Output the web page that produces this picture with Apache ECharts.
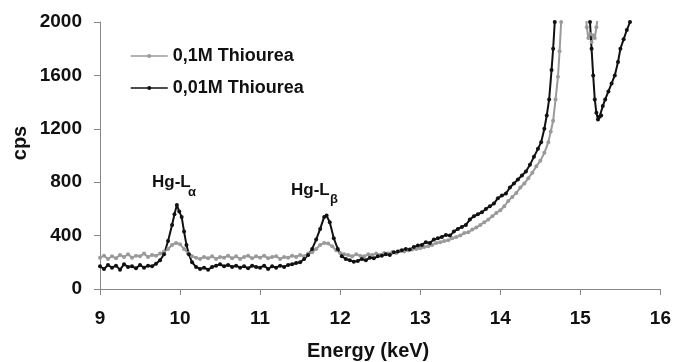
<!DOCTYPE html>
<html>
<head>
<meta charset="utf-8">
<script src="https://cdn.jsdelivr.net/npm/echarts@6/dist/echarts.min.js"></script>
<style>
html,body{margin:0;padding:0;background:#fff;}
#chart{width:674px;height:362px;}
</style>
</head>
<body>
<div id="chart"></div>
<script>
// ---- Data ----
var seriesNames = ['0,1M Thiourea', '0,01M Thiourea'];
var xTicks = [9, 10, 11, 12, 13, 14, 15, 16];
var yTicks = [0, 400, 800, 1200, 1600, 2000];

// 0,1M Thiourea (grey)
var energyGrey = [9.00,9.05,9.10,9.15,9.20,9.25,9.30,9.35,9.40,9.45,9.50,9.55,9.60,9.65,9.70,
  9.75,9.80,9.85,9.90,9.95,10.00,10.05,10.10,10.15,10.20,10.25,10.30,10.35,10.40,10.45,10.50,
  10.55,10.60,10.65,10.70,10.75,10.80,10.85,10.90,10.95,11.00,11.05,11.10,11.15,11.20,11.25,
  11.30,11.35,11.40,11.45,11.50,11.55,11.60,11.65,11.70,11.75,11.80,11.85,11.90,11.95,12.00,
  12.05,12.10,12.15,12.20,12.25,12.30,12.35,12.40,12.45,12.50,12.55,12.60,12.65,12.70,12.75,
  12.80,12.85,12.90,12.95,13.00,13.05,13.10,13.15,13.20,13.25,13.30,13.35,13.40,13.45,13.50,
  13.55,13.60,13.65,13.70,13.75,13.80,13.85,13.90,13.95,14.00,14.05,14.10,14.15,14.20,14.25,
  14.30,14.35,14.40,14.45,14.50,14.55,14.60,14.63,14.66,14.69,14.72,14.74,14.76,14.78,
  15.05,15.08,15.10,15.12,15.14,15.16,15.18,15.20,15.22,15.25];
var cpsGrey = [235,250,225,245,230,255,240,260,235,250,245,265,240,255,250,
  265,280,300,330,345,335,300,270,245,235,225,240,230,245,225,240,
  235,250,230,245,225,240,250,230,245,235,250,230,240,245,225,
  240,235,250,240,255,245,265,275,300,330,345,340,320,290,270,
  260,255,245,260,250,245,260,255,265,255,270,265,275,270,285,
  280,290,295,300,305,315,320,330,345,350,360,365,380,390,400,
  420,425,445,460,480,500,520,545,570,590,620,660,690,720,760,
  790,830,870,920,960,1020,1100,1180,1260,1420,1590,1780,2000,2300,
  2300,1960,1880,1910,1850,1900,1880,1960,2050,2300];

// 0,01M Thiourea (black)
var energyBlack = [9.00,9.05,9.10,9.15,9.20,9.25,9.30,9.35,9.40,9.45,9.50,9.55,9.60,9.65,9.70,
  9.75,9.80,9.85,9.90,9.93,9.96,9.99,10.02,10.05,10.08,10.11,10.15,10.20,10.25,10.30,10.35,
  10.40,10.45,10.50,10.55,10.60,10.65,10.70,10.75,10.80,10.85,10.90,10.95,11.00,11.05,11.10,
  11.15,11.20,11.25,11.30,11.35,11.40,11.45,11.50,11.55,11.60,11.65,11.70,11.75,11.80,11.83,
  11.87,11.92,11.97,12.02,12.07,12.12,12.17,12.22,12.27,12.32,12.37,12.42,12.47,12.52,12.57,
  12.62,12.67,12.72,12.77,12.82,12.87,12.92,12.97,13.02,13.07,13.12,13.17,13.22,13.27,13.32,
  13.37,13.42,13.47,13.52,13.57,13.62,13.67,13.72,13.77,13.82,13.87,13.92,13.97,14.02,14.07,
  14.12,14.17,14.22,14.27,14.32,14.37,14.42,14.47,14.51,14.55,14.58,14.61,14.64,14.66,14.68,
  14.70,15.10,15.12,15.14,15.16,15.18,15.20,15.22,15.24,15.26,15.28,15.31,15.35,15.39,15.43,
  15.47,15.50,15.54,15.58,15.62];
var cpsBlack = [170,150,180,160,175,145,185,165,170,155,180,160,175,170,190,
  215,260,360,480,560,630,580,540,430,330,260,200,165,150,160,145,
  165,175,185,170,180,165,175,160,170,155,175,165,160,175,150,
  170,160,175,165,180,185,195,200,225,255,300,370,450,540,550,
  500,380,300,245,225,215,205,210,225,215,235,230,245,250,260,
  255,275,280,290,300,295,315,325,330,350,345,370,380,390,405,
  400,430,450,465,480,520,545,560,575,600,620,640,680,700,715,
  760,790,820,850,880,930,990,1050,1100,1200,1300,1420,1640,1800,2000,
  2300,2300,2000,1800,1600,1420,1320,1270,1290,1300,1370,1420,1480,1540,1600,
  1700,1800,1870,1940,2000];

function pairs(xs, ys) {
  var out = [];
  for (var i = 0; i < xs.length; i++) out.push([xs[i], ys[i]]);
  return out;
}

var FONT = '"Liberation Sans", Arial, Helvetica, sans-serif';
var chart = echarts.init(document.getElementById('chart'), null, {renderer: 'canvas'});

chart.setOption({
  animation: false,
  backgroundColor: '#ffffff',
  grid: {left: 100, right: 11, top: 22, bottom: 73, containLabel: false},
  legend: {
    orient: 'vertical',
    left: 125,
    top: 42,
    itemWidth: 37,
    itemHeight: 5,
    itemGap: 14,
    data: seriesNames,
    itemStyle: {borderWidth: 0},
    lineStyle: {width: 1.5},
    textStyle: {fontFamily: FONT, fontWeight: 'bold', fontSize: 18, color: '#111'}
  },
  xAxis: {
    type: 'value',
    min: xTicks[0],
    max: xTicks[xTicks.length - 1],
    interval: 1,
    axisLine: {show: true, onZero: false, lineStyle: {color: '#888', width: 1}},
    axisTick: {show: true, length: 6, lineStyle: {color: '#888'}},
    splitLine: {show: false},
    axisLabel: {margin: 20, fontFamily: FONT, fontWeight: 'bold', fontSize: 19, color: '#111',
      formatter: function (v) { return String(v); }}
  },
  yAxis: {
    type: 'value',
    min: yTicks[0],
    max: yTicks[yTicks.length - 1],
    interval: 400,
    axisLine: {show: true, lineStyle: {color: '#888', width: 1}},
    axisTick: {show: true, length: 6, lineStyle: {color: '#888'}},
    splitLine: {show: false},
    axisLabel: {margin: 18, fontFamily: FONT, fontWeight: 'bold', fontSize: 19, color: '#111',
      formatter: function (v) { return String(v); }}
  },
  graphic: [
    {type: 'text', left: 307, top: 341,
      style: {text: 'Energy (keV)', font: 'bold 20px ' + FONT, fill: '#111'}},
    {type: 'text', x: 20, y: 143, rotation: Math.PI / 2,
      style: {text: 'cps', font: 'bold 20px ' + FONT, fill: '#111', align: 'center', verticalAlign: 'middle'}},
    {type: 'text', x: 152, y: 182,
      style: {text: 'Hg-L', font: 'bold 17px ' + FONT, fill: '#111', align: 'left', verticalAlign: 'middle'}},
    {type: 'text', x: 188, y: 192,
      style: {text: 'α', font: 'bold 13px ' + FONT, fill: '#111', align: 'left', verticalAlign: 'middle'}},
    {type: 'text', x: 291, y: 190,
      style: {text: 'Hg-L', font: 'bold 17px ' + FONT, fill: '#111', align: 'left', verticalAlign: 'middle'}},
    {type: 'text', x: 330, y: 199,
      style: {text: 'β', font: 'bold 13px ' + FONT, fill: '#111', align: 'left', verticalAlign: 'middle'}}
  ],
  series: [
    {
      name: seriesNames[0],
      type: 'line',
      data: pairs(energyGrey, cpsGrey),
      clip: true,
      showSymbol: true,
      showAllSymbol: true,
      symbol: 'circle',
      symbolSize: 4,
      itemStyle: {color: '#9a9a9a'},
      lineStyle: {color: '#9a9a9a', width: 2}
    },
    {
      name: seriesNames[1],
      type: 'line',
      data: pairs(energyBlack, cpsBlack),
      clip: true,
      showSymbol: true,
      showAllSymbol: true,
      symbol: 'circle',
      symbolSize: 4,
      itemStyle: {color: '#111'},
      lineStyle: {color: '#111', width: 2}
    }
  ]
});
</script>
</body>
</html>
